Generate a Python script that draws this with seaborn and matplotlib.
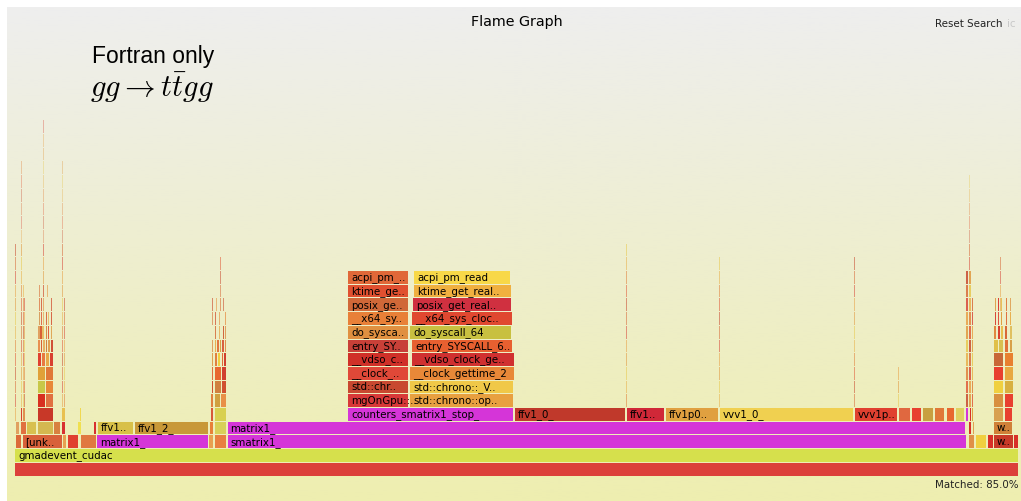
import numpy as np
import matplotlib
matplotlib.use("Agg")
import matplotlib.pyplot as plt
from matplotlib.colors import to_rgba
import seaborn as sns

sns.set_theme(style="white")
plt.rcParams["font.family"] = ["DejaVu Sans"]
plt.rcParams["mathtext.fontset"] = "cm"

# ---------------------------------------------------------------------------
# Profile data: one stack level per row, x in samples (root = 1004 samples)
# ---------------------------------------------------------------------------
TOTAL_SAMPLES = 1004

MAGENTA = "#d535d8"

# named frames of the main call stacks
frame_level = [0, 1,
               2, 2, 2, 2, 2, 2, 2, 2, 2, 2, 2, 2, 2, 2,
               3, 3, 3, 3, 3, 3, 3, 3, 3, 3, 3, 3, 3, 3, 3, 3,
               4, 4, 4, 4, 4, 4, 4, 4, 4, 4, 4, 4, 4, 4, 4, 4, 4, 4, 4, 4, 4, 4, 4, 4]
frame_start = [0, 0,
               0.5, 7.5, 48, 53, 66, 82, 194, 199.5, 212.5, 954, 960.5, 972.5, 979, 999,
               0.5, 5.5, 11.7, 22.5, 39, 46.5, 63, 79, 82.5, 119.5, 194.5, 199.5, 212.5, 954, 957.5, 979,
               5.5, 8, 23, 47, 65, 196, 200, 333, 500, 612, 651, 704.5, 840, 884, 897, 908,
               919.5, 931.5, 941, 951, 954.5, 956.5, 979, 989.5]
frame_width = [1004, 1004,
               6.5, 40, 4, 11, 16, 111.5, 4.5, 12.5, 739.5, 6, 11.5, 6, 19.5, 4.5,
               4.5, 6, 10.3, 16, 7, 4.5, 4, 3, 36, 74, 4, 12.5, 738.5, 3, 2.5, 19,
               2, 2.5, 16, 3.5, 1.7, 3, 11.7, 166, 111, 38, 52.5, 134, 42.5, 11.5, 9.5, 10.5,
               10.5, 8.5, 9, 2.3, 1.5, 2, 10, 8.5]
frame_name = ["", "gmadevent_cudac",
              "", "[unk..", "", "", "", "matrix1_", "", "", "smatrix1_", "", "", "", "w..", "",
              "", "", "", "", "", "", "", "", "ffv1..", "ffv1_2_", "", "", "matrix1_", "", "", "w..",
              "", "", "", "", "", "", "", "counters_smatrix1_stop_", "ffv1_0_", "ffv1..", "ffv1p0..",
              "vvv1_0_", "vvv1p..", "", "", "", "", "", "", "", "", "", "", ""]
frame_color = ["#dc403a", "#d6e04c",
               "#dc6a3a", "#d8603a", "#e8a050", "#e04030", "#e07840", MAGENTA, "#e8a050", "#e88040",
               MAGENTA, "#e09048", "#f0d040", "#d83028", "#c83a28", "#d83028",
               "#e0a060", "#e07040", "#d8c050", "#d4b850", "#d88040", "#d83030", "#f0e050", "#d83030",
               "#d8c048", "#c89838", "#e88038", "#d8d058", MAGENTA, "#d83028", "#e0a050", "#d08038",
               "#d84030", "#e09050", "#c83828", "#e8c050", "#f0d850", "#d85838", "#d8d050", MAGENTA,
               "#c0392b", "#d02838", "#e0a040", "#f0d050", "#e04030", "#e06840", "#e84030", "#c8a040",
               "#e07838", "#e86830", "#e0d060", MAGENTA, "#d83028", "#e0a040", "#d8a050", "#e84030"]

# clock-query stacks above counters_smatrix1_stop_ (levels 5..14)
clock_level = list(range(5, 15))
clock_left_start = 333
clock_left_width = 60.5
clock_left_name = ["mgOnGpu::..", "std::chr..", "__clock_..", "__vdso_c..", "entry_SY..",
                   "do_sysca..", "__x64_sy..", "posix_ge..", "ktime_ge..", "acpi_pm_.."]
clock_left_color = ["#d83838", "#c84830", "#e04838", "#d03028", "#c84038",
                    "#e09040", "#e88038", "#d06838", "#e05030", "#e06838"]
clock_right_start = [395, 395, 395, 396.5, 397, 395, 397, 398, 399, 399]
clock_right_width = [104, 104, 104.5, 103.5, 101, 102, 101, 99, 98, 97]
clock_right_name = ["std::chrono::op..", "std::chrono::_V..", "__clock_gettime_2",
                    "__vdso_clock_ge..", "entry_SYSCALL_6..", "do_syscall_64",
                    "__x64_sys_cloc..", "posix_get_real..", "ktime_get_real..", "acpi_pm_read"]
clock_right_color = ["#e8a040", "#f0c848", "#e88838", "#d03030", "#e86030",
                     "#c8c040", "#e04830", "#d03040", "#f0b040", "#f8d848"]

# narrow unnamed frames of the deep towers
tower_level = [5, 5, 6, 6, 7, 7, 8, 8, 8, 8,
               9, 9, 9, 9, 9, 9, 10, 10, 10, 10, 10, 10, 11, 11, 11, 11, 11, 11,
               12, 12, 12, 12, 12, 13, 13, 13, 13,
               5, 5, 5, 6, 6, 6, 7, 7, 7, 8, 8, 8, 8, 8,
               9, 9, 9, 9, 9, 9, 9, 10, 10, 10, 10, 10, 10, 11, 11, 11, 11, 11,
               12, 12, 12, 12,
               5, 5, 6, 6, 7, 7, 8, 8, 9, 9, 9, 9, 10, 10, 10, 10, 10,
               11, 11, 11, 11, 11, 12, 12, 12, 12, 12, 13, 13, 13, 13, 14, 14]
tower_start = [23, 30.8, 23, 30.8, 23, 30.8, 23, 26.6, 30.8, 35,
               23, 25.6, 28, 30.8, 33.3, 35.8, 23.3, 25.4, 27.3, 30.8, 32.8, 35.8,
               23.6, 25.6, 27.5, 31, 33, 36,
               24, 26.3, 28, 31.5, 36.3, 24.3, 28.2, 32, 36.5,
               196, 199.8, 206, 196.5, 199.8, 207.3, 196.5, 199.8, 207.3,
               196.5, 199.8, 203.4, 206.5, 209.3,
               196.5, 198.5, 200, 202.3, 204.5, 207.3, 209.6,
               196.5, 199.5, 201.5, 204, 207.5, 210, 197, 200, 204.2, 207.5, 210.2,
               197, 201, 205, 208,
               979, 990, 979, 990, 979, 990, 979, 990, 979, 984, 990, 994.5,
               979, 982.5, 986, 990, 994.5, 979.5, 982.5, 985.5, 990.5, 994.5,
               980, 983, 986, 991, 995, 980.5, 983.5, 991.5, 995.5, 980.5, 991.5]
tower_width = [7.3, 7.5, 7.3, 7.5, 7.3, 7.5, 3.4, 3.6, 3.9, 3.3,
               2.4, 2.2, 2.2, 2.2, 2.2, 2.4, 1.8, 1.6, 2.0, 1.6, 1.4, 2.2,
               1.4, 1.2, 1.8, 1.2, 1.2, 1.6,
               1.0, 1.0, 1.4, 1.0, 1.2, 0.8, 1.2, 0.8, 1.0,
               2.2, 5.8, 5.5, 2, 7.2, 4.4, 2, 7.2, 4.4,
               1.6, 3.2, 2.6, 2.4, 2.4,
               1.4, 1.2, 1.8, 1.6, 2, 1.8, 2,
               1.2, 1.4, 1.2, 1.6, 1.4, 1.5, 1.0, 1.2, 1.2, 1.2, 1.0,
               0.8, 1.0, 1.0, 1.0,
               10, 8.5, 10, 8.5, 10, 8.5, 10, 8.5, 4.5, 5, 4, 3.5,
               3, 3, 3, 3, 3, 2, 2.2, 2, 2, 2,
               1.5, 1.5, 1.5, 1.5, 1.5, 1.2, 1.2, 1.2, 1.2, 1.0, 1.0]
tower_color = ["#d83020", "#e07040", "#c8c848", "#e88838", "#e0a038", "#e07838",
               "#e04030", "#e87840", "#e8a848", "#d84030",
               "#e89050", "#d86038", "#e8b060", "#d08040", "#e0a050", "#d05038",
               "#e0a060", "#d86038", "#e8c068", "#d88848", "#e06040", "#e0a858",
               "#d8a060", "#e07050", "#e8b870", "#d87048", "#e8c070", "#d86848",
               "#e09060", "#d87050", "#e8b070", "#e0a068", "#d87858",
               "#e0a070", "#d88060", "#e8b878", "#e09068",
               "#e08040", "#d0a040", "#e89048", "#d05030", "#d08040", "#d05030",
               "#e07040", "#e86830", "#d04030",
               "#e0a050", "#e08040", "#f0d040", "#e06838", "#d04030",
               "#e0a060", "#d87048", "#e8b050", "#e07840", "#d8a048", "#d86040", "#e09050",
               "#e8b068", "#d88050", "#e07048", "#e8b868", "#d06840", "#e0a060",
               "#e0a070", "#d87858", "#e8b070", "#d88060", "#e8a868",
               "#d88868", "#e8b878", "#e0a070", "#d89070",
               "#d89040", "#e84030", "#f0d040", "#d8b040", "#e84030", "#e8a840",
               "#c86838", "#e88030", "#e0c048", "#d8c050", "#e07038", "#d8a048",
               "#e08840", "#d84030", "#e8c050", "#d86838", "#e0c060",
               "#d84838", "#e05040", "#e0a040", "#e07040", "#e8b050",
               "#e0a050", "#d84038", "#e8c058", "#e08048", "#e0a860",
               "#e8b060", "#d86040", "#e8c070", "#d89060", "#e0a868", "#d88868"]

# single-sample columns: start, width, first level, last level
column_start = [0.3, 5.6, 6.0, 8, 9.3, 28.3, 28.5, 47.2, 49, 65.5, 78.5, 120,
                196.5, 205, 205, 392.8, 494.5, 611, 650.5, 704, 839, 883,
                951.3, 954.3, 956.5, 954, 980.5, 985]
column_width = [0.8, 1.2, 0.5, 1.1, 1.0, 0.9, 0.5, 1.2, 1.2, 1.0, 0.6, 0.6,
                0.8, 0.8, 0.5, 0.9, 0.9, 0.8, 0.8, 0.8, 0.8, 0.7,
                1.8, 1.8, 1.6, 0.8, 0.8, 0.7]
column_base = [4, 5, 23, 5, 5, 14, 26, 5, 5, 5, 4, 4,
               13, 13, 16, 15, 15, 5, 5, 5, 5, 5,
               5, 5, 5, 15, 15, 12]
column_top = [16, 22, 31, 13, 12, 25, 31, 22, 12, 5, 8, 8,
              31, 15, 31, 25, 25, 16, 16, 15, 15, 7,
              14, 14, 12, 21, 26, 15]

# warm flame palette used for the single-sample columns
flame_cycle = ["#e0803a", "#d8483a", "#e8b04a", "#d86a3a", "#e8c84e",
               "#c84a30", "#e0983e", "#e05a38", "#e8a046"]

# ---------------------------------------------------------------------------
# Figure geometry (pixels)
# ---------------------------------------------------------------------------
W_PX, H_PX = 1021, 501
ROOT_LEFT_PX = 15
ROW_PX = 13.7
BASE_PX = 475.5

fig = plt.figure(figsize=(W_PX / 100, H_PX / 100), dpi=100, facecolor="white")
ax = fig.add_axes([0, 0, 1, 1])
ax.set_xlim(-ROOT_LEFT_PX, W_PX - ROOT_LEFT_PX)
ax.set_ylim(-(H_PX - BASE_PX) / ROW_PX, BASE_PX / ROW_PX)
ax.axis("off")

# background gradient
bg_cmap = sns.blend_palette(["#eeeeee", "#eeeeb0"], n_colors=256, as_cmap=True)
ax.imshow(np.linspace(0, 1, 256).reshape(-1, 1), cmap=bg_cmap, aspect="auto",
          origin="upper", zorder=0,
          extent=[7 - ROOT_LEFT_PX, W_PX - ROOT_LEFT_PX,
                  -(H_PX - BASE_PX) / ROW_PX, (BASE_PX - 8) / ROW_PX])

FRAME_H = 0.92
GAP = 0.7


def draw_frames(levels, starts, widths, colors, names=None):
    widths = np.asarray(widths, dtype=float)
    drawn = np.maximum(widths - GAP, widths * 0.75)
    bars = ax.barh(levels, drawn, left=starts, height=FRAME_H, align="edge",
                   color=colors, linewidth=0, zorder=2)
    if names is None:
        return
    for bar, name, lev, st in zip(bars.patches, names, levels, starts):
        if not name:
            continue
        t = ax.text(st + 3, lev + FRAME_H / 2 - 0.02, name, fontsize=7.4,
                    ha="left", va="center", color="black", zorder=3)
        t.set_clip_path(bar)


draw_frames(frame_level, frame_start, frame_width, frame_color, frame_name)
draw_frames(clock_level, [clock_left_start] * len(clock_level),
            [clock_left_width] * len(clock_level), clock_left_color, clock_left_name)
draw_frames(clock_level, clock_right_start, clock_right_width,
            clock_right_color, clock_right_name)
draw_frames(tower_level, tower_start, tower_width, tower_color)

# single-sample columns: hairline frames render faint, the highest ones fainter
col_lv, col_st, col_w, col_c = [], [], [], []
for i, (s, w, b, t) in enumerate(zip(column_start, column_width, column_base, column_top)):
    for lev in range(b, t + 1):
        alpha = 0.85 if w > 1.5 else (0.55 if lev <= 16 else 0.35)
        col_lv.append(lev)
        col_st.append(s)
        col_w.append(w)
        col_c.append(to_rgba(flame_cycle[(lev * 2 + i) % len(flame_cycle)], alpha))
draw_frames(col_lv, col_st, col_w, col_c)

# header / footer text
fig.text(517 / W_PX, 1 - 22 / H_PX, "Flame Graph", ha="center", va="center",
         fontsize=10.3, color="black")
fig.text(935 / W_PX, 1 - 24 / H_PX, "Reset Search", ha="left", va="center",
         fontsize=7.4, color="#222222")
fig.text(1007 / W_PX, 1 - 24 / H_PX, "ic", ha="left", va="center",
         fontsize=7.4, color="#c8c8c8")
fig.text(1019 / W_PX, 1 - 485 / H_PX, "Matched: 85.0%", ha="right", va="center",
         fontsize=7.4, color="#222222")

# annotation
fig.text(214 / W_PX, 1 - 63.5 / H_PX, "Fortran only", ha="right", va="baseline",
         fontsize=16.5, color="black", family=["Liberation Sans"])
fig.text(214 / W_PX, 1 - 97 / H_PX, r"$gg \to t\bar{t}gg$", ha="right",
         va="baseline", fontsize=22, color="black")

fig.savefig("out.png", dpi=100, facecolor="white")
